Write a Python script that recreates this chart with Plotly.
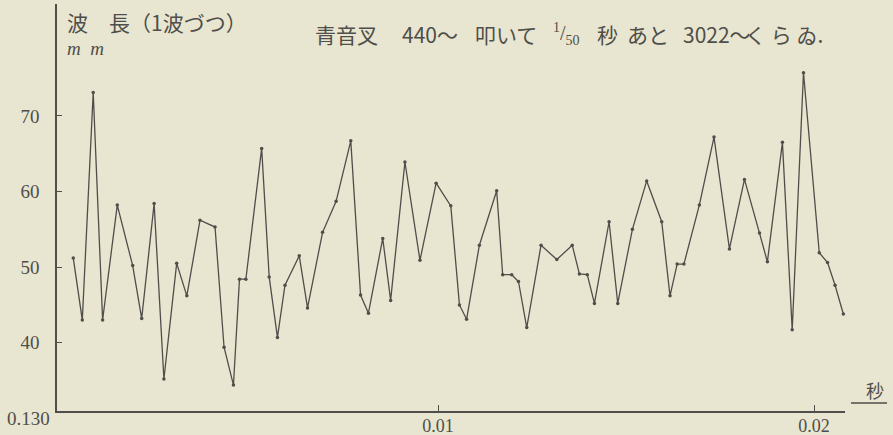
import plotly.graph_objects as go

# time (s) of each wave, and wavelength (mm)
time_s = [0.00030, 0.00054, 0.00083, 0.00108, 0.00147, 0.00188, 0.00212, 0.00245, 0.00271, 0.00305,
          0.00332, 0.00367, 0.00407, 0.00431, 0.00456, 0.00472, 0.00489, 0.00531, 0.00551, 0.00573,
          0.00593, 0.00631, 0.00653, 0.00693, 0.00729, 0.00768, 0.00794, 0.00815, 0.00853, 0.00874,
          0.00912, 0.00952, 0.00995, 0.01034, 0.01057, 0.01076, 0.01110, 0.01156, 0.01172, 0.01196,
          0.01214, 0.01236, 0.01274, 0.01316, 0.01357, 0.01376, 0.01397, 0.01416, 0.01455, 0.01478,
          0.01517, 0.01555, 0.01595, 0.01617, 0.01636, 0.01654, 0.01695, 0.01734, 0.01775, 0.01815,
          0.01855, 0.01876, 0.01916, 0.01942, 0.01972, 0.02014, 0.02036, 0.02056, 0.02078]
wavelength_mm = [51.2, 43.0, 73.1, 43.0, 58.2, 50.2, 43.2, 58.4, 35.2, 50.5,
                 46.2, 56.2, 55.3, 39.4, 34.4, 48.4, 48.4, 65.7, 48.7, 40.7,
                 47.6, 51.5, 44.6, 54.6, 58.7, 66.7, 46.3, 43.9, 53.8, 45.6,
                 63.9, 50.9, 61.1, 58.1, 45.0, 43.1, 52.9, 60.1, 49.0, 49.0,
                 48.1, 42.0, 52.9, 51.0, 52.9, 49.1, 49.0, 45.2, 56.0, 45.2,
                 55.0, 61.4, 56.0, 46.2, 50.4, 50.4, 58.2, 67.2, 52.4, 61.6,
                 54.5, 50.7, 66.5, 41.7, 75.7, 51.9, 50.6, 47.6, 43.8]

x_tick_vals = [0.01, 0.02]
x_tick_text = ["0.01", "0.02"]
y_tick_vals = [40, 50, 60, 70]
y_tick_text = ["40", "50", "60", "70"]

# title pieces (text only)
title_parts = ["青音叉", "440〜", "叩いて", "<sup>1</sup>/<sub>50</sub>", "秒", "あと", "3022〜", "く ら ゐ."]
ylabel_text = "波　長（1波づつ）"
yunit_text = "<i>m  m</i>"
xunit_text = "秒"
origin_text = "0.130"

ink = "#4f4e4a"
bg = "#e8e6d0"
serif = "Liberation Serif, Noto Sans CJK JP, serif"
jp = "Noto Sans CJK JP, Liberation Serif, serif"

# plot area in pixels: x 57..845, y 4..411
L, R, T, B = 57, 845, 4, 411
def px(x):
    return (x - L) / (R - L)
def py(y):
    return (B - y) / (B - T)

fig = go.Figure()
fig.add_trace(go.Scatter(
    x=time_s, y=wavelength_mm, mode="lines+markers",
    line=dict(color=ink, width=1.3),
    marker=dict(color=ink, size=3.5),
    hoverinfo="skip", showlegend=False, cliponaxis=False,
))

fig.update_layout(
    width=893, height=435,
    margin=dict(l=L, r=893 - R, t=T, b=435 - B),
    paper_bgcolor=bg, plot_bgcolor=bg,
    font=dict(family=serif, color=ink, size=18),
    xaxis=dict(range=[-0.000133, 0.020824], showgrid=False, zeroline=False, automargin=False,
               showline=True, linecolor=ink, linewidth=1.5,
               tickmode="array", tickvals=x_tick_vals, ticktext=x_tick_text,
               ticks="inside", ticklen=6, tickcolor=ink, ticklabelstandoff=-2,
               tickfont=dict(family=serif, size=18, color=ink)),
    yaxis=dict(range=[30.97, 84.8], showgrid=False, zeroline=False, automargin=False,
               showline=True, linecolor=ink, linewidth=1.5,
               tickmode="array", tickvals=y_tick_vals, ticktext=y_tick_text,
               ticks="inside", ticklen=5, tickcolor=ink, ticklabelstandoff=12,
               tickfont=dict(family=serif, size=19, color=ink)),
)

fig.add_annotation(x=px(65), y=py(22), xref="paper", yref="paper", text=ylabel_text,
                   showarrow=False, xanchor="left", yanchor="middle",
                   font=dict(family=jp, size=21, color=ink))
fig.add_annotation(x=px(65), y=py(48), xref="paper", yref="paper", text=yunit_text,
                   showarrow=False, xanchor="left", yanchor="middle",
                   font=dict(family=serif, size=19, color=ink))

title_left = [315, 402, 475, 553, 597, 627, 683, 745]
for part, left in zip(title_parts, title_left):
    is_jp = any(ord(c) > 0x3000 for c in part)
    fig.add_annotation(x=px(left), y=py(34), xref="paper", yref="paper", text=part,
                       showarrow=False, xanchor="left", yanchor="middle", xshift=-2,
                       font=dict(family=jp if is_jp else serif, size=21 if is_jp else 20, color=ink))

fig.add_annotation(x=px(875), y=py(390), xref="paper", yref="paper", text=xunit_text,
                   showarrow=False, xanchor="center", yanchor="middle",
                   font=dict(family=jp, size=18, color=ink))
fig.add_annotation(x=px(29), y=py(418), xref="paper", yref="paper", text=origin_text,
                   showarrow=False, xanchor="center", yanchor="middle",
                   font=dict(family=serif, size=19, color=ink))
fig.add_shape(type="line", xref="paper", yref="paper", x0=px(851), x1=px(887), y0=py(403), y1=py(403),
              line=dict(color=ink, width=1.3))

fig.write_html("out.html", config={"displayModeBar": False},
               post_script="document.body.style.margin='0';document.body.style.padding='0';")
